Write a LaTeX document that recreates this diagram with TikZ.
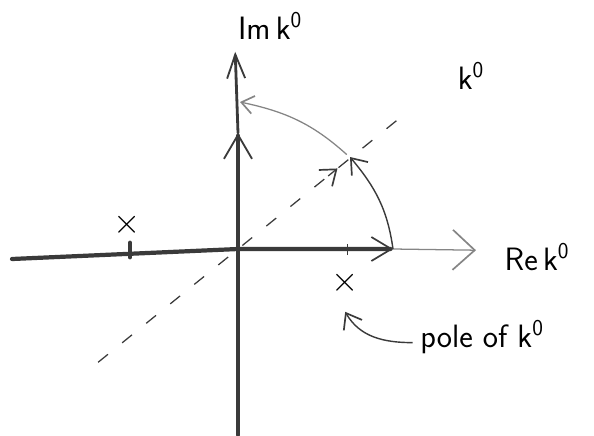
\documentclass[tikz,border=0pt]{standalone}
\usepackage{tikz}
\usetikzlibrary{arrows.meta}
\definecolor{pencil}{HTML}{3A3A3A}
\definecolor{lightpencil}{HTML}{858585}

\begin{document}
\begin{tikzpicture}[
  font=\sffamily\fontsize{23}{27}\selectfont,
  axisline/.style={pencil, line width=3pt, line cap=round},
  thinline/.style={lightpencil, line width=0.9pt},
  barbtip/.style={-{Straight Barb[length=#1, width=1.5*#1, line width=1.2pt]}},
  polex/.style={inner sep=0pt, font=\fontsize{30}{30}\selectfont},
]
  % frame of the sketch (594 x 435 px at 40 px per cm)
  \useasboundingbox (-5.95,-4.65) rectangle (8.9,6.225);

  % ---------- axes ----------
  \coordinate (O) at (0,0);
  \coordinate (ybot) at (0,-4.65);
  \coordinate (ymid) at (0,2.9);
  \coordinate (ytop) at (-0.07,4.93);
  \coordinate (xleft) at (-5.65,-0.25);
  \coordinate (xend) at (3.875,0);
  \coordinate (xtip) at (5.95,-0.03);

  % imaginary axis: rotated contour runs up it
  \draw[axisline, -{Straight Barb[length=6mm, width=7mm, line width=1.3pt]}] (ybot) -- (ymid);
  \draw[axisline, line width=2pt, -{Straight Barb[length=6mm, width=4.5mm, line width=1.3pt]}] (ymid) -- (ytop);

  % real axis: original contour, then plain axis beyond it
  \draw[axisline, -{Straight Barb[length=5mm, width=6mm, line width=1.2pt]}] (xleft) -- (O) -- (xend);
  \draw[thinline, -{Straight Barb[length=5.5mm, width=10mm, line width=1.2pt]}] (xend) -- (xtip);

  % poles sitting just off the real axis
  \draw[axisline, line width=3.5pt] (-2.7,-0.2) -- (-2.7,0.15);
  \draw[pencil, line width=1pt] (2.73,-0.15) -- (2.73,0.12);
  \node[polex] (poleL) at (-2.78,0.6) {$\times$};
  \node[polex] (poleR) at (2.68,-0.85) {$\times$};

  % ---------- rotated direction ----------
  \pgfmathsetmacro{\ang}{39}
  \draw[pencil, line width=0.9pt, dash pattern=on 9pt off 13pt] (\ang+180:4.5) -- (\ang:5.1);
  \draw[pencil, line width=0.9pt, barbtip=3.5mm] (\ang:2.9) -- (\ang:3.2);

  % ---------- arcs swept by the rotation ----------
  \coordinate (wick) at (2.8,2.3);
  \coordinate (iaxis) at (0.05,3.675);
  \draw[pencil, line width=1pt, barbtip=3.5mm] (xend) to[out=98, in=-50] (wick);
  \draw[thinline, barbtip=3mm] ([shift={(-0.08,0.06)}]wick) to[out=138, in=-12] (iaxis);

  % ---------- labels ----------
  \node (imlabel) at (0.8,5.575) {Im\,k\textsuperscript{0}};
  \node (klabel) at (5.825,4.325) {k\textsuperscript{0}};
  \node (relabel) at (7.475,-0.2) {Re\,k\textsuperscript{0}};
  \node (polelabel) at (6.1,-2.2) {pole of k\textsuperscript{0}};
  \draw[pencil, line width=1pt, barbtip=3.5mm]
    ([xshift=-2pt,yshift=-4pt]polelabel.west) to[out=180, in=-60] ([yshift=-12pt]poleR.south);
\end{tikzpicture}
\end{document}
